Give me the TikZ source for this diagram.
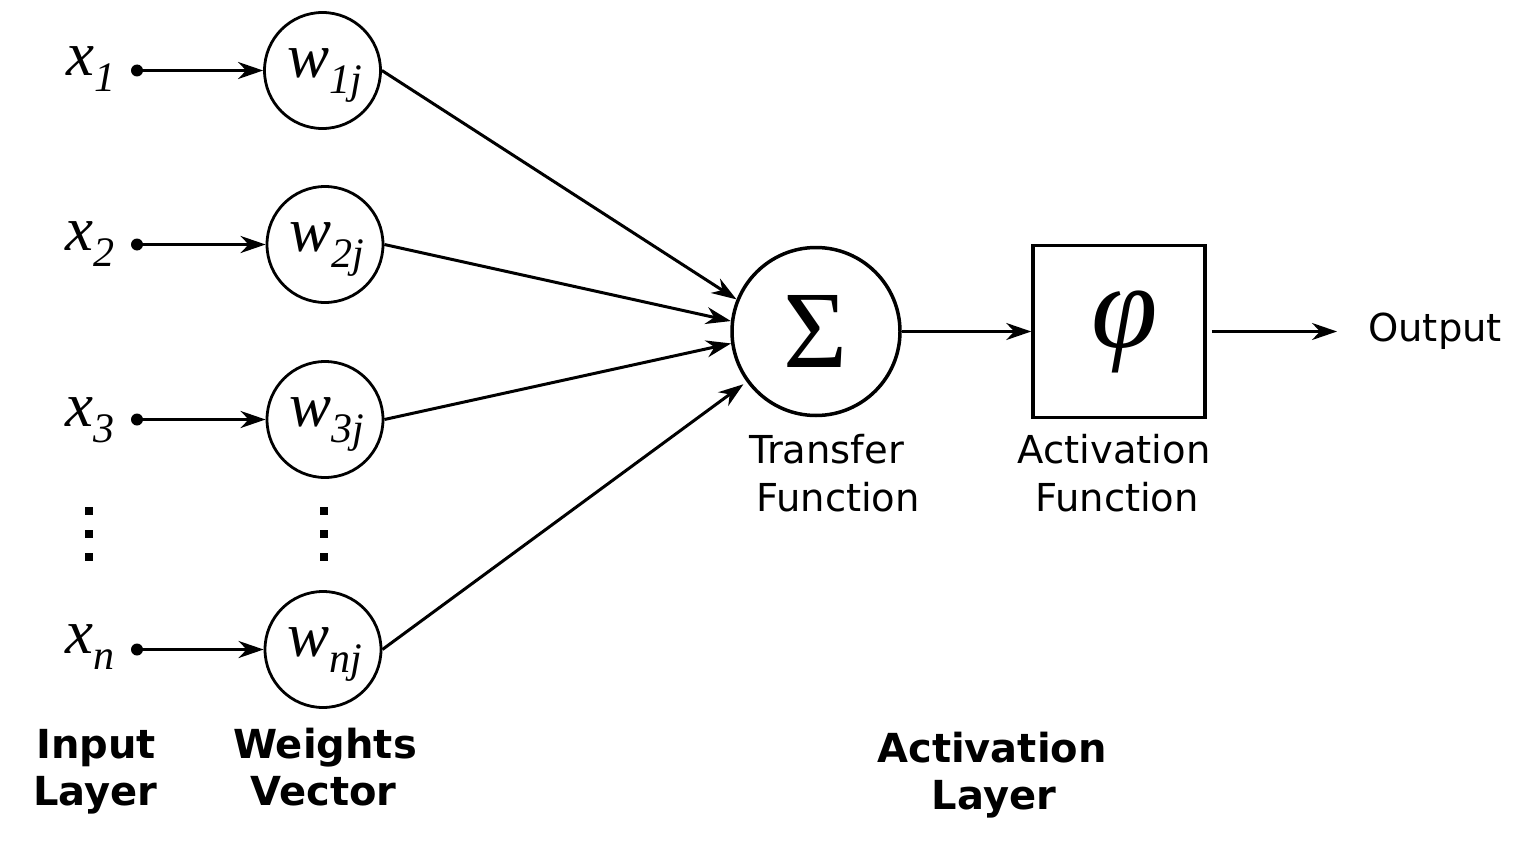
\documentclass[tikz,border=0pt]{standalone}
\usepackage{fontspec}
\setmainfont{Liberation Serif}
\newfontfamily\dvsans{DejaVu Sans}
\usetikzlibrary{arrows.meta}
\newcommand\lowsub[1]{\raisebox{-16pt}{\fontsize{42}{42}\selectfont #1}}
\begin{document}
\begin{tikzpicture}[x=1pt,y=-1pt,
  wcirc/.style={circle, draw, line width=2.8pt, minimum size=116pt, inner sep=0pt},
  indot/.style={circle, fill, minimum size=12pt, inner sep=0pt},
  conn/.style={line width=3pt, -{Stealth[length=25pt,width=17pt,inset=8pt]}},
  mathlab/.style={inner sep=0pt, anchor=base, font=\fontsize{63}{63}\selectfont\itshape},
  sanslab/.style={inner sep=0pt, anchor=base, font=\dvsans\fontsize{38.5}{40}\selectfont},
  boldlab/.style={inner sep=0pt, anchor=base, font=\dvsans\bfseries\fontsize{40}{42}\selectfont},
  vdot/.style={rectangle, fill, minimum size=8pt, inner sep=0pt}]
\useasboundingbox (0,0) rectangle (1537,851);

% input labels
\node[mathlab] (lx1) at (91,76) {x\lowsub{1}};
\node[mathlab] (lx2) at (90,250) {x\lowsub{2}};
\node[mathlab] (lx3) at (90,426) {x\lowsub{3}};
\node[mathlab] (lxn) at (90,653) {x\lowsub{n}};

% input dots
\node[indot] (d1) at (137,70.5) {};
\node[indot] (d2) at (137,244.5) {};
\node[indot] (d3) at (137,419.5) {};
\node[indot] (dn) at (137,649.5) {};

% weight circles
\node[wcirc] (w1) at (322.5,70.5) {};
\node[wcirc] (w2) at (325,244.5) {};
\node[wcirc] (w3) at (325,419.5) {};
\node[wcirc] (wn) at (323,649.5) {};
\node[mathlab] (lw1) at (325,77.5) {w\lowsub{1j}};
\node[mathlab] (lw2) at (327,251.5) {w\lowsub{2j}};
\node[mathlab] (lw3) at (327,426.5) {w\lowsub{3j}};
\node[mathlab] (lwn) at (325,656.5) {w\lowsub{nj}};

% vertical ellipses
\node[vdot] (ea1) at (89,511) {};
\node[vdot] (ea2) at (89,534) {};
\node[vdot] (ea3) at (89,557) {};
\node[vdot] (eb1) at (324,511) {};
\node[vdot] (eb2) at (324,534) {};
\node[vdot] (eb3) at (324,557) {};

% transfer and activation
\node[circle, draw, line width=3.5pt, minimum size=168pt, inner sep=0pt,
      font=\fontsize{110}{110}\selectfont\upshape] (sig) at (816,331.5) {Σ};
\node[draw, line width=3.5pt, minimum size=172pt, inner sep=0pt] (act) at (1119,331.5) {};
\node[inner sep=0pt, font=\fontsize{120}{120}\selectfont\itshape] (phi) at (1125,331.5) {φ};
\coordinate (outend) at (1337,331.5);

% connectors
\draw[conn] (d1.center) -- (w1.west);
\draw[conn] (d2.center) -- (w2.west);
\draw[conn] (d3.center) -- (w3.west);
\draw[conn] (dn.center) -- (wn.west);
\draw[conn] (w1.east) -- (sig.158);
\draw[conn] (w2.east) -- (sig.173);
\draw[conn] (w3.east) -- (sig.188);
\draw[conn, shorten >=4pt] (wn.east) -- (sig.216);
\draw[conn] (sig.east) -- (act.west);
\draw[conn, shorten <=5pt] (act.east) -- (outend);

% texts
\node[sanslab, anchor=base west] (outlab) at (1368,341) {Output};
\node[sanslab] (tf1) at (826.5,463) {Transfer};
\node[sanslab] (tf2) at (838,511) {Function};
\node[sanslab] (af1) at (1114,463) {Activation};
\node[sanslab] (af2) at (1117,511) {Function};
\node[boldlab] (il1) at (96,758) {Input};
\node[boldlab] (il2) at (95.5,805) {Layer};
\node[boldlab] (wv1) at (325,758) {Weights};
\node[boldlab] (wv2) at (323.5,805) {Vector};
\node[boldlab] (al1) at (992,762) {Activation};
\node[boldlab] (al2) at (994,809) {Layer};
\end{tikzpicture}
\end{document}
